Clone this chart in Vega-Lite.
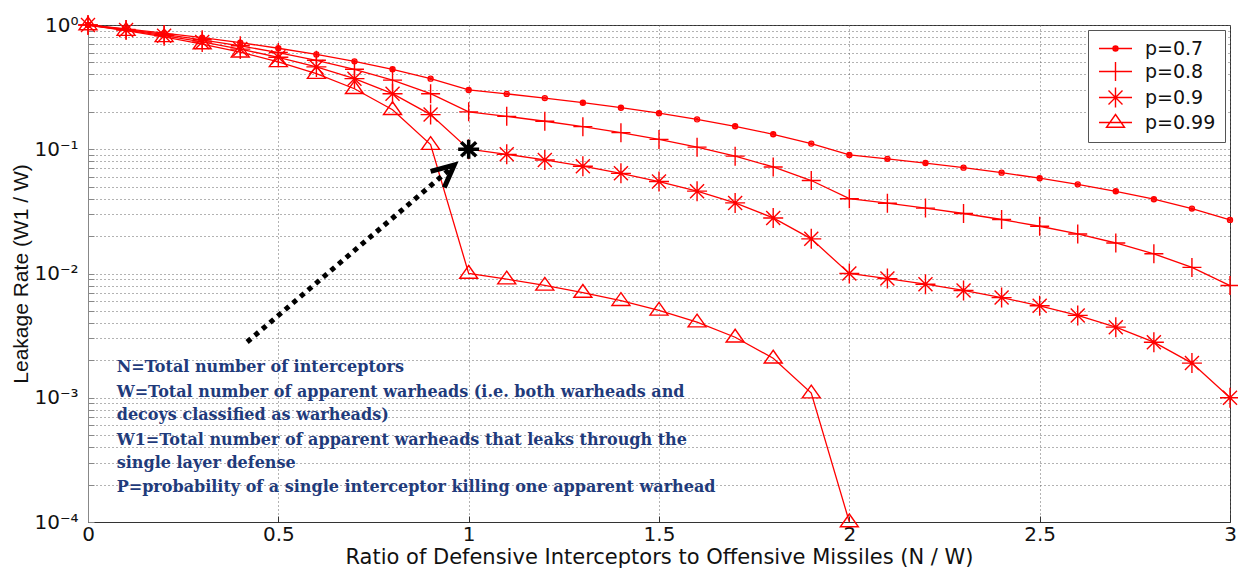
{
  "$schema": "https://vega.github.io/schema/vega-lite/v6.json",
  "width": 1142,
  "height": 497,
  "autosize": {"type": "none"},
  "padding": {"left": 88, "top": 25, "right": 8, "bottom": 47},
  "background": "white",
  "config": {
    "view": {"stroke": "#333333", "strokeWidth": 1},
    "font": "DejaVu Sans"
  },
  "datasets": {
    "series": [
      {"x": 0, "y": 1, "p": "p=0.7"}, {"x": 0.1, "y": 0.93, "p": "p=0.7"}, {"x": 0.2, "y": 0.86, "p": "p=0.7"}, {"x": 0.3, "y": 0.79, "p": "p=0.7"}, {"x": 0.4, "y": 0.72, "p": "p=0.7"}, {"x": 0.5, "y": 0.65, "p": "p=0.7"}, {"x": 0.6, "y": 0.58, "p": "p=0.7"}, {"x": 0.7, "y": 0.51, "p": "p=0.7"}, {"x": 0.8, "y": 0.44, "p": "p=0.7"}, {"x": 0.9, "y": 0.37, "p": "p=0.7"}, {"x": 1.0, "y": 0.3, "p": "p=0.7"},
      {"x": 1.1, "y": 0.279, "p": "p=0.7"}, {"x": 1.2, "y": 0.258, "p": "p=0.7"}, {"x": 1.3, "y": 0.237, "p": "p=0.7"}, {"x": 1.4, "y": 0.216, "p": "p=0.7"}, {"x": 1.5, "y": 0.195, "p": "p=0.7"}, {"x": 1.6, "y": 0.174, "p": "p=0.7"}, {"x": 1.7, "y": 0.153, "p": "p=0.7"}, {"x": 1.8, "y": 0.132, "p": "p=0.7"}, {"x": 1.9, "y": 0.111, "p": "p=0.7"}, {"x": 2.0, "y": 0.09, "p": "p=0.7"},
      {"x": 2.1, "y": 0.0837, "p": "p=0.7"}, {"x": 2.2, "y": 0.0774, "p": "p=0.7"}, {"x": 2.3, "y": 0.0711, "p": "p=0.7"}, {"x": 2.4, "y": 0.0648, "p": "p=0.7"}, {"x": 2.5, "y": 0.0585, "p": "p=0.7"}, {"x": 2.6, "y": 0.0522, "p": "p=0.7"}, {"x": 2.7, "y": 0.0459, "p": "p=0.7"}, {"x": 2.8, "y": 0.0396, "p": "p=0.7"}, {"x": 2.9, "y": 0.0333, "p": "p=0.7"}, {"x": 3.0, "y": 0.027, "p": "p=0.7"},
      {"x": 0, "y": 1, "p": "p=0.8"}, {"x": 0.1, "y": 0.92, "p": "p=0.8"}, {"x": 0.2, "y": 0.84, "p": "p=0.8"}, {"x": 0.3, "y": 0.76, "p": "p=0.8"}, {"x": 0.4, "y": 0.68, "p": "p=0.8"}, {"x": 0.5, "y": 0.6, "p": "p=0.8"}, {"x": 0.6, "y": 0.52, "p": "p=0.8"}, {"x": 0.7, "y": 0.44, "p": "p=0.8"}, {"x": 0.8, "y": 0.36, "p": "p=0.8"}, {"x": 0.9, "y": 0.28, "p": "p=0.8"}, {"x": 1.0, "y": 0.2, "p": "p=0.8"},
      {"x": 1.1, "y": 0.184, "p": "p=0.8"}, {"x": 1.2, "y": 0.168, "p": "p=0.8"}, {"x": 1.3, "y": 0.152, "p": "p=0.8"}, {"x": 1.4, "y": 0.136, "p": "p=0.8"}, {"x": 1.5, "y": 0.12, "p": "p=0.8"}, {"x": 1.6, "y": 0.104, "p": "p=0.8"}, {"x": 1.7, "y": 0.088, "p": "p=0.8"}, {"x": 1.8, "y": 0.072, "p": "p=0.8"}, {"x": 1.9, "y": 0.056, "p": "p=0.8"}, {"x": 2.0, "y": 0.04, "p": "p=0.8"},
      {"x": 2.1, "y": 0.0368, "p": "p=0.8"}, {"x": 2.2, "y": 0.0336, "p": "p=0.8"}, {"x": 2.3, "y": 0.0304, "p": "p=0.8"}, {"x": 2.4, "y": 0.0272, "p": "p=0.8"}, {"x": 2.5, "y": 0.024, "p": "p=0.8"}, {"x": 2.6, "y": 0.0208, "p": "p=0.8"}, {"x": 2.7, "y": 0.0176, "p": "p=0.8"}, {"x": 2.8, "y": 0.0144, "p": "p=0.8"}, {"x": 2.9, "y": 0.0112, "p": "p=0.8"}, {"x": 3.0, "y": 0.008, "p": "p=0.8"},
      {"x": 0, "y": 1, "p": "p=0.9"}, {"x": 0.1, "y": 0.91, "p": "p=0.9"}, {"x": 0.2, "y": 0.82, "p": "p=0.9"}, {"x": 0.3, "y": 0.73, "p": "p=0.9"}, {"x": 0.4, "y": 0.64, "p": "p=0.9"}, {"x": 0.5, "y": 0.55, "p": "p=0.9"}, {"x": 0.6, "y": 0.46, "p": "p=0.9"}, {"x": 0.7, "y": 0.37, "p": "p=0.9"}, {"x": 0.8, "y": 0.28, "p": "p=0.9"}, {"x": 0.9, "y": 0.19, "p": "p=0.9"}, {"x": 1.0, "y": 0.1, "p": "p=0.9"},
      {"x": 1.1, "y": 0.091, "p": "p=0.9"}, {"x": 1.2, "y": 0.082, "p": "p=0.9"}, {"x": 1.3, "y": 0.073, "p": "p=0.9"}, {"x": 1.4, "y": 0.064, "p": "p=0.9"}, {"x": 1.5, "y": 0.055, "p": "p=0.9"}, {"x": 1.6, "y": 0.046, "p": "p=0.9"}, {"x": 1.7, "y": 0.037, "p": "p=0.9"}, {"x": 1.8, "y": 0.028, "p": "p=0.9"}, {"x": 1.9, "y": 0.019, "p": "p=0.9"}, {"x": 2.0, "y": 0.01, "p": "p=0.9"},
      {"x": 2.1, "y": 0.0091, "p": "p=0.9"}, {"x": 2.2, "y": 0.0082, "p": "p=0.9"}, {"x": 2.3, "y": 0.0073, "p": "p=0.9"}, {"x": 2.4, "y": 0.0064, "p": "p=0.9"}, {"x": 2.5, "y": 0.0055, "p": "p=0.9"}, {"x": 2.6, "y": 0.0046, "p": "p=0.9"}, {"x": 2.7, "y": 0.0037, "p": "p=0.9"}, {"x": 2.8, "y": 0.0028, "p": "p=0.9"}, {"x": 2.9, "y": 0.0019, "p": "p=0.9"}, {"x": 3.0, "y": 0.001, "p": "p=0.9"},
      {"x": 0, "y": 1, "p": "p=0.99"}, {"x": 0.1, "y": 0.901, "p": "p=0.99"}, {"x": 0.2, "y": 0.802, "p": "p=0.99"}, {"x": 0.3, "y": 0.703, "p": "p=0.99"}, {"x": 0.4, "y": 0.604, "p": "p=0.99"}, {"x": 0.5, "y": 0.505, "p": "p=0.99"}, {"x": 0.6, "y": 0.406, "p": "p=0.99"}, {"x": 0.7, "y": 0.307, "p": "p=0.99"}, {"x": 0.8, "y": 0.208, "p": "p=0.99"}, {"x": 0.9, "y": 0.109, "p": "p=0.99"}, {"x": 1.0, "y": 0.01, "p": "p=0.99"},
      {"x": 1.1, "y": 0.00901, "p": "p=0.99"}, {"x": 1.2, "y": 0.00802, "p": "p=0.99"}, {"x": 1.3, "y": 0.00703, "p": "p=0.99"}, {"x": 1.4, "y": 0.00604, "p": "p=0.99"}, {"x": 1.5, "y": 0.00505, "p": "p=0.99"}, {"x": 1.6, "y": 0.00406, "p": "p=0.99"}, {"x": 1.7, "y": 0.00307, "p": "p=0.99"}, {"x": 1.8, "y": 0.00208, "p": "p=0.99"}, {"x": 1.9, "y": 0.00109, "p": "p=0.99"}, {"x": 2.0, "y": 0.0001, "p": "p=0.99"}
    ],
    "notes": [
      {"x": 0.0755, "y": 0.00176, "t": "N=Total number of interceptors"},
      {"x": 0.0755, "y": 0.00112, "t": "W=Total number of apparent warheads (i.e. both warheads and"},
      {"x": 0.0755, "y": 0.000726, "t": "decoys classified as warheads)"},
      {"x": 0.0755, "y": 0.000457, "t": "W1=Total number of apparent warheads that leaks through the"},
      {"x": 0.0755, "y": 0.0003, "t": "single layer defense"},
      {"x": 0.0755, "y": 0.00019, "t": "P=probability of a single interceptor killing one apparent warhead"}
    ],
    "arrow": [{"x": 0.418, "y": 0.00281, "x2": 0.948, "y2": 0.068}],
    "arrowhead": [{"x": 0.962, "y": 0.0745}],
    "star": [{"x": 1.0, "y": 0.1}]
  },
  "resolve": {"scale": {"shape": "independent"}},
  "layer": [
    {
      "data": {"name": "series"},
      "mark": {"type": "line", "color": "#ff0000", "strokeWidth": 1.3},
      "encoding": {
        "x": {
          "field": "x", "type": "quantitative",
          "scale": {"domain": [0, 3], "nice": false, "zero": false},
          "axis": {
            "values": [0, 0.5, 1, 1.5, 2, 2.5, 3],
            "format": "~g",
            "labelFlush": false,
            "grid": true, "gridDash": [1, 3], "gridColor": "#666666", "gridOpacity": 1,
            "domainColor": "#333333", "tickColor": "#333333", "tickSize": -6,
            "labelFontSize": 20, "labelColor": "#111111", "labelPadding": 8,
            "title": "Ratio of Defensive Interceptors to Offensive Missiles (N / W)",
            "titleFontSize": 21, "titleFontWeight": "normal", "titleColor": "#111111",
            "titleY": 41, "titleBaseline": "alphabetic"
          }
        },
        "y": {
          "field": "y", "type": "quantitative",
          "scale": {"type": "log", "domain": [0.0001, 1], "nice": false},
          "axis": {
            "values": [0.0001, 0.0002, 0.0003, 0.0004, 0.0005, 0.0006, 0.0007, 0.0008, 0.0009, 0.001, 0.002, 0.003, 0.004, 0.005, 0.006, 0.007, 0.008, 0.009, 0.01, 0.02, 0.03, 0.04, 0.05, 0.06, 0.07, 0.08, 0.09, 0.1, 0.2, 0.3, 0.4, 0.5, 0.6, 0.7, 0.8, 0.9, 1],
            "labelExpr": "datum.value==1?'10⁰':datum.value==0.1?'10⁻¹':datum.value==0.01?'10⁻²':datum.value==0.001?'10⁻³':datum.value==0.0001?'10⁻⁴':''",
            "labelFlush": false,
            "grid": true, "gridDash": [1, 3], "gridColor": "#666666", "gridOpacity": 1,
            "domainColor": "#888888", "tickColor": "#888888", "tickSize": -6,
            "labelFontSize": 20, "labelColor": "#111111", "labelPadding": 16, "labelOverlap": false,
            "title": "Leakage Rate (W1 / W)",
            "titleFont": "Liberation Sans", "titleFontSize": 21, "titleFontWeight": "normal", "titleColor": "#111111", "titlePadding": 2
          }
        },
        "detail": {"field": "p", "type": "nominal"}
      }
    },
    {
      "data": {"name": "series"},
      "mark": {"type": "point", "filled": false, "size": 100, "strokeWidth": 1.4, "color": "#ff0000", "opacity": 1},
      "encoding": {
        "x": {"field": "x", "type": "quantitative"},
        "y": {"field": "y", "type": "quantitative"},
        "shape": {
          "field": "p", "type": "nominal",
          "scale": {
            "domain": ["p=0.7", "p=0.8", "p=0.9", "p=0.99"],
            "range": [
              "M-0.5,0A0.5,0.5 0 1,0 0.5,0A0.5,0.5 0 1,0 -0.5,0ZM-0.2,0A0.2,0.2 0 1,0 0.2,0A0.2,0.2 0 1,0 -0.2,0Z",
              "M-1.9,0L1.9,0M0,-1.9L0,1.9",
              "M-2,0L2,0M0,-2L0,2M-1.4,-1.4L1.4,1.4M-1.4,1.4L1.4,-1.4",
              "M0,-1.6L1.8,0.95L-1.8,0.95Z"
            ]
          },
          "legend": null
        }
      }
    },
    {
      "data": {"name": "series"},
      "transform": [{"filter": "false"}],
      "mark": {"type": "point", "filled": false, "size": 100, "strokeWidth": 1.4, "color": "#ff0000", "opacity": 1},
      "encoding": {
        "x": {"field": "x", "type": "quantitative"},
        "y": {"field": "y", "type": "quantitative"},
        "shape": {
          "field": "p", "type": "nominal",
          "scale": {
            "domain": ["p=0.7", "p=0.8", "p=0.9", "p=0.99"],
            "range": [
              "M-3.3,0L3.3,0M-0.5,0A0.5,0.5 0 1,0 0.5,0A0.5,0.5 0 1,0 -0.5,0ZM-0.2,0A0.2,0.2 0 1,0 0.2,0A0.2,0.2 0 1,0 -0.2,0Z",
              "M-3.3,0L3.3,0M0,-1.9L0,1.9",
              "M-3.3,0L3.3,0M0,-2L0,2M-1.4,-1.4L1.4,1.4M-1.4,1.4L1.4,-1.4",
              "M-3.3,0L3.3,0M0,-1.6L1.8,0.95L-1.8,0.95Z"
            ]
          },
          "legend": {
            "title": null,
            "orient": "top-right",
            "offset": 5,
            "padding": 9,
            "rowPadding": 0,
            "symbolSize": 100,
            "symbolOffset": 9,
            "labelOffset": 20,
            "labelFontSize": 19,
            "labelColor": "#111111",
            "strokeColor": "#555555",
            "fillColor": "white",
            "symbolStrokeWidth": 1.4,
            "symbolStrokeColor": "#ff0000"
          }
        }
      }
    },
    {
      "data": {"name": "arrow"},
      "mark": {"type": "rule", "color": "#000000", "strokeWidth": 5, "strokeDash": [5, 5], "strokeCap": "butt"},
      "encoding": {
        "x": {"field": "x", "type": "quantitative"},
        "y": {"field": "y", "type": "quantitative"},
        "x2": {"field": "x2"},
        "y2": {"field": "y2"}
      }
    },
    {
      "data": {"name": "arrowhead"},
      "mark": {"type": "point", "filled": false, "size": 100, "strokeWidth": 5, "stroke": "#000000", "opacity": 1, "angle": 319.5,
               "shape": "M-4.4,-2.1L0,0L-4.4,2.1", "strokeJoin": "miter"},
      "encoding": {
        "x": {"field": "x", "type": "quantitative"},
        "y": {"field": "y", "type": "quantitative"}
      }
    },
    {
      "data": {"name": "star"},
      "mark": {"type": "point", "filled": false, "size": 100, "strokeWidth": 3.5, "stroke": "#000000", "opacity": 1,
               "shape": "M-2.1,0L2.1,0M0,-1.9L0,1.9M-1.5,-1.4L1.5,1.4M-1.5,1.4L1.5,-1.4"},
      "encoding": {
        "x": {"field": "x", "type": "quantitative"},
        "y": {"field": "y", "type": "quantitative"}
      }
    },
    {
      "data": {"name": "notes"},
      "mark": {"type": "text", "align": "left", "baseline": "middle", "font": "DejaVu Serif", "fontWeight": "bold", "fontSize": 16, "color": "#1f3b7b"},
      "encoding": {
        "x": {"field": "x", "type": "quantitative"},
        "y": {"field": "y", "type": "quantitative"},
        "text": {"field": "t", "type": "nominal"}
      }
    }
  ]
}
